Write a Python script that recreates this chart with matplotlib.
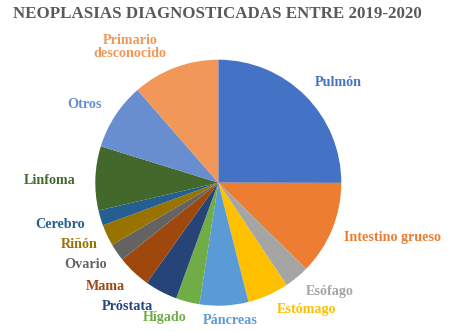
import matplotlib
matplotlib.use("Agg")
import matplotlib.pyplot as plt

# porcentaje de casos por localización
categorias = ["Pulmón", "Intestino grueso", "Esófago", "Estómago", "Páncreas",
              "Hígado", "Próstata", "Mama", "Ovario", "Riñón", "Cerebro",
              "Linfoma", "Otros", "Primario\ndesconocido"]
valores = [25.0, 12.3, 3.3, 5.4, 6.4, 3.1, 4.3, 4.4, 2.3, 2.8, 2.0, 8.4, 8.8, 11.4]
colores = ["#4472C4", "#ED7D31", "#A5A5A5", "#FFC000", "#5B9BD5", "#70AD47",
           "#264478", "#9E480E", "#636363", "#997300", "#255E91", "#43682B",
           "#698ED0", "#F1975A"]

# posicion de las etiquetas en pixeles de la imagen (x, y desde arriba)
pos_etiquetas = [(338, 82), (393, 237), (330, 292), (307, 310), (230, 321),
                 (165, 318), (127, 307), (105, 287), (86, 265), (79, 244),
                 (60, 224), (50, 180), (85, 105), (130, 47)]

W, H = 450, 331
fig = plt.figure(figsize=(W / 100, H / 100), dpi=100)
ax = fig.add_axes([0, 0, 1, 1])

ax.pie(valores, colors=colores, startangle=90, counterclock=False,
       center=(218.3, H - 182.7), radius=123,
       wedgeprops=dict(linewidth=0))

for nombre, color, (x, y) in zip(categorias, colores, pos_etiquetas):
    ax.text(x, H - y, nombre, color=color, fontsize=10.2, fontweight="bold",
            family="Liberation Serif", ha="center", va="center",
            linespacing=1.05)

ax.text(217, H - 14, "NEOPLASIAS DIAGNOSTICADAS ENTRE 2019-2020",
        color="#595959", fontsize=12.2, fontweight="bold",
        family="Liberation Serif", ha="center", va="center")

ax.set_xlim(0, W)
ax.set_ylim(0, H)
ax.set_aspect("equal")
ax.axis("off")

fig.savefig("out.png", dpi=100, facecolor="white")
